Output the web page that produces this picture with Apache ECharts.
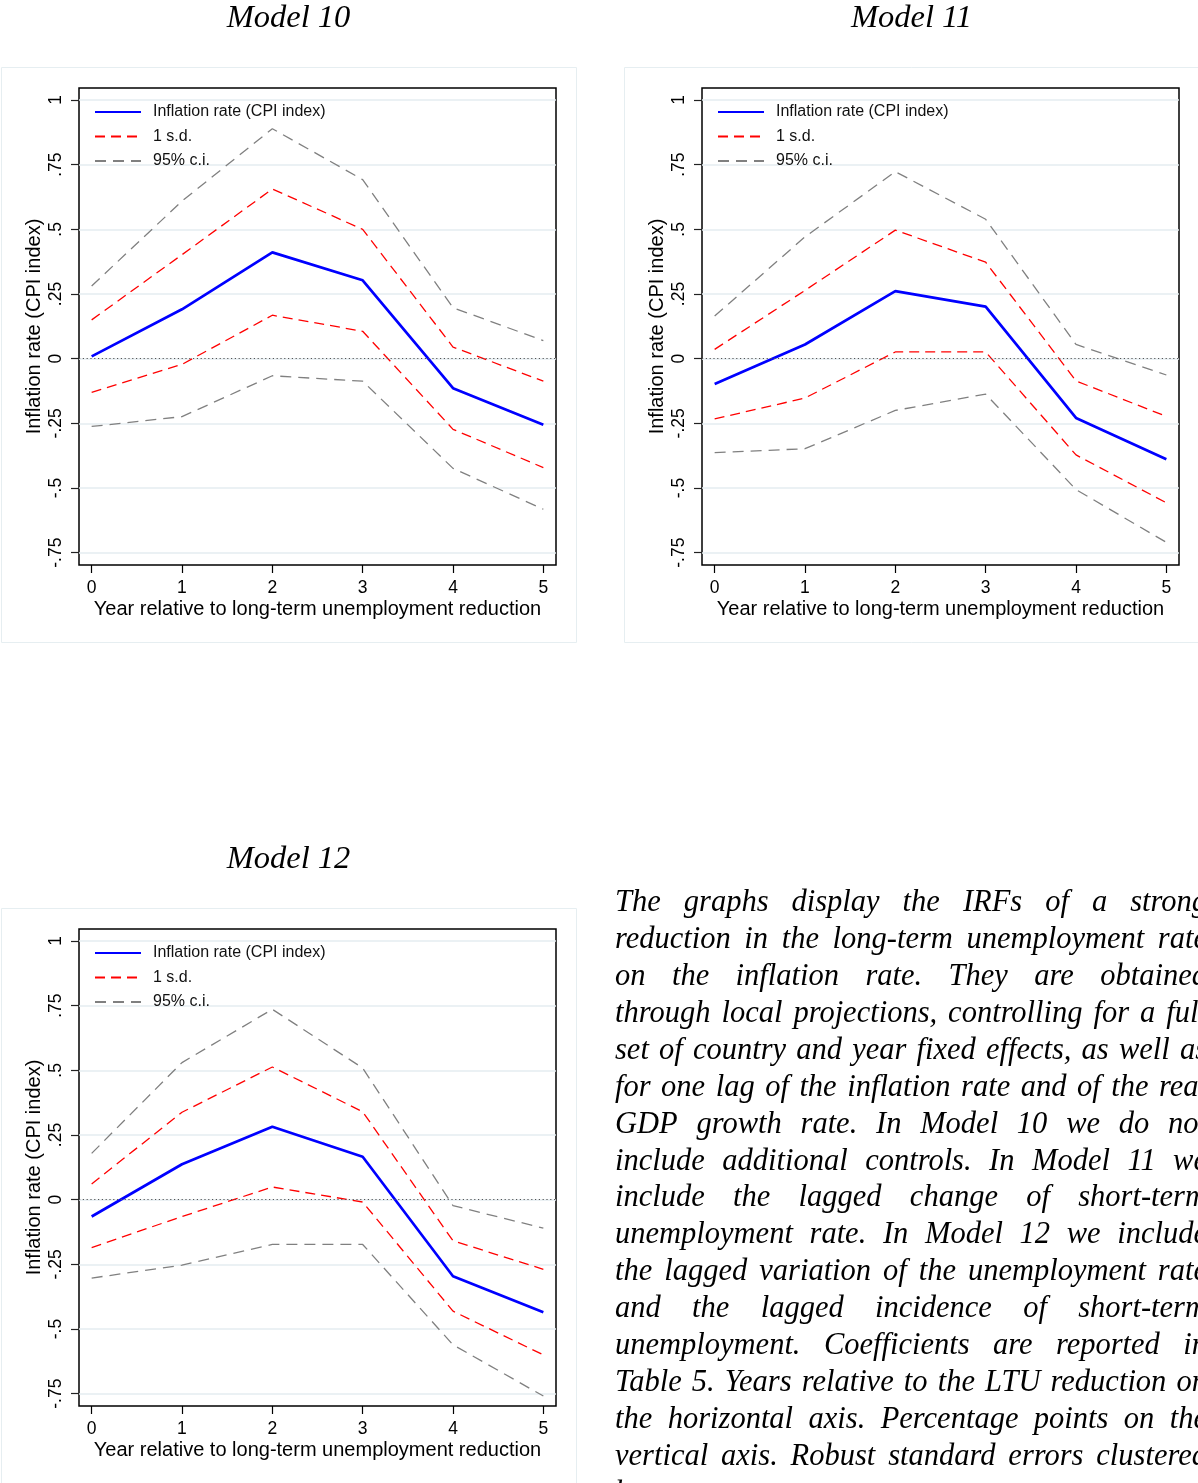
<!DOCTYPE html>
<html>
<head>
<meta charset="utf-8">
<title>Inflation rate IRFs</title>
<script src="https://cdn.jsdelivr.net/npm/echarts@6/dist/echarts.min.js"></script>
<style>
  html, body { margin: 0; padding: 0; background: #ffffff; }
  #chart { width: 1198px; height: 1483px; }
</style>
</head>
<body>
<div id="chart"></div>
<script>
// Horizon (years after the long-term unemployment reduction)
const years = [0, 1, 2, 3, 4, 5];
const yTickValues = [-0.75, -0.5, -0.25, 0, 0.25, 0.5, 0.75, 1];
const seriesNames = ['Inflation rate (CPI index)', '1 s.d.', '95% c.i.'];
const modelTitles = ['Model 10', 'Model 11', 'Model 12'];
const xAxisTitle = 'Year relative to long-term unemployment reduction';
const yAxisTitle = 'Inflation rate (CPI index)';

// Model 10
const m10Irf  = [0.009, 0.191, 0.411, 0.303, -0.114, -0.255];
const m10SdHi = [0.150, 0.402, 0.656, 0.500, 0.045, -0.087];
const m10SdLo = [-0.130, -0.022, 0.168, 0.106, -0.273, -0.421];
const m10CiHi = [0.281, 0.609, 0.889, 0.692, 0.197, 0.070];
const m10CiLo = [-0.262, -0.224, -0.066, -0.087, -0.424, -0.582];

// Model 11
const m11Irf  = [-0.098, 0.055, 0.261, 0.201, -0.229, -0.389];
const m11SdHi = [0.036, 0.264, 0.497, 0.373, -0.086, -0.223];
const m11SdLo = [-0.233, -0.152, 0.026, 0.026, -0.372, -0.557];
const m11CiHi = [0.165, 0.471, 0.723, 0.539, 0.055, -0.063];
const m11CiLo = [-0.363, -0.348, -0.200, -0.137, -0.506, -0.710];

// Model 12
const m12Irf  = [-0.065, 0.137, 0.282, 0.166, -0.296, -0.435];
const m12SdHi = [0.061, 0.338, 0.513, 0.340, -0.159, -0.269];
const m12SdLo = [-0.185, -0.065, 0.049, -0.009, -0.431, -0.600];
const m12CiHi = [0.179, 0.530, 0.736, 0.509, -0.023, -0.110];
const m12CiLo = [-0.303, -0.253, -0.173, -0.173, -0.561, -0.759];

// Note under the graphs, one entry per printed line
const captionLines = [
  'The graphs display the IRFs of a strong',
  'reduction in the long-term unemployment rate',
  'on the inflation rate. They are obtained',
  'through local projections, controlling for a full',
  'set of country and year fixed effects, as well as',
  'for one lag of the inflation rate and of the real',
  'GDP growth rate. In Model 10 we do not',
  'include additional controls. In Model 11 we',
  'include the lagged change of short-term',
  'unemployment rate. In Model 12 we include',
  'the lagged variation of the unemployment rate',
  'and the lagged incidence of short-term',
  'unemployment. Coefficients are reported in',
  'Table 5. Years relative to the LTU reduction on',
  'the horizontal axis. Percentage points on the',
  'vertical axis. Robust standard errors clustered',
  'by country.'
];

const models = [
  { irf: m10Irf, sdHi: m10SdHi, sdLo: m10SdLo, ciHi: m10CiHi, ciLo: m10CiLo },
  { irf: m11Irf, sdHi: m11SdHi, sdLo: m11SdLo, ciHi: m11CiHi, ciLo: m11CiLo },
  { irf: m12Irf, sdHi: m12SdHi, sdLo: m12SdLo, ciHi: m12CiHi, ciLo: m12CiLo }
];

// ---- layout & style ----
const SANS = '"Liberation Sans", Arial, Helvetica, sans-serif';
const SERIF = '"Liberation Serif", "Times New Roman", serif';
const panelOrigins = [ { x: 1, y: 67 }, { x: 624, y: 67 }, { x: 1, y: 908 } ];
const PLOT_DX = 78, PLOT_DY = 21, PLOT_W = 477, PLOT_H = 477;
const BOX_W = 575, BOX_H = 575;
const X_RANGE = [-0.14, 5.14];
const Y_RANGE = [-0.7975, 1.0464];

const BLUE = '#0000ff', RED = '#ff0000', GREY = '#808080';
const RED_DASH = [10, 6], GREY_DASH = [11, 7];
const HIDDEN = 'rgba(0,0,0,0)';

function stataNum(v) {
  if (v === 0) return '0';
  return String(v).replace(/^(-?)0\./, '$1.');
}
const pairs = arr => arr.map((v, i) => [years[i], v]);

const grids = [], xAxes = [], yAxes = [], series = [], legends = [], graphics = [];

panelOrigins.forEach((o, k) => {
  grids.push({
    left: o.x + PLOT_DX, top: o.y + PLOT_DY, width: PLOT_W, height: PLOT_H,
    show: true, borderColor: '#000', borderWidth: 1.5, backgroundColor: '#fff',
    containLabel: false
  });
  xAxes.push({
    type: 'value', gridIndex: k, min: X_RANGE[0], max: X_RANGE[1], position: 'bottom',
    axisLine: { show: false, onZero: false },
    axisTick: { show: true, length: 8, customValues: years, lineStyle: { color: '#000', width: 1.2 } },
    axisLabel: { customValues: years, margin: 14, fontSize: 17.5, fontFamily: SANS, color: '#000', formatter: v => String(v) },
    splitLine: { show: false },
    name: xAxisTitle, nameLocation: 'middle', nameGap: 34,
    nameTextStyle: { fontSize: 20, fontFamily: SANS, color: '#000' }
  });
  yAxes.push({
    type: 'value', gridIndex: k, min: Y_RANGE[0], max: Y_RANGE[1], position: 'left',
    axisLine: { show: false, onZero: false },
    axisTick: { show: true, length: 8, customValues: yTickValues, lineStyle: { color: '#222', width: 1.2 } },
    axisLabel: { customValues: yTickValues, rotate: 90, margin: 14, fontSize: 17.5, fontFamily: SANS, color: '#000', formatter: stataNum },
    splitLine: { show: true, lineStyle: { color: '#e4edf0', width: 1.6 } },
    name: yAxisTitle, nameLocation: 'middle', nameGap: 35,
    nameTextStyle: { fontSize: 20, fontFamily: SANS, color: '#000' }
  });

  const m = models[k];
  const base = { type: 'line', xAxisIndex: k, yAxisIndex: k, symbol: 'none', silent: true };
  series.push(
    Object.assign({}, base, { name: seriesNames[2], data: pairs(m.ciHi), z: 2,
      itemStyle: { color: GREY }, lineStyle: { color: GREY, width: 1.3, type: GREY_DASH } }),
    Object.assign({}, base, { name: seriesNames[2], data: pairs(m.ciLo), z: 2,
      itemStyle: { color: GREY }, lineStyle: { color: GREY, width: 1.3, type: GREY_DASH } }),
    Object.assign({}, base, { name: seriesNames[1], data: pairs(m.sdHi), z: 3,
      itemStyle: { color: RED }, lineStyle: { color: RED, width: 1.3, type: RED_DASH } }),
    Object.assign({}, base, { name: seriesNames[1], data: pairs(m.sdLo), z: 3,
      itemStyle: { color: RED }, lineStyle: { color: RED, width: 1.3, type: RED_DASH } }),
    Object.assign({}, base, { name: seriesNames[0], data: pairs(m.irf), z: 4,
      itemStyle: { color: BLUE }, lineStyle: { color: BLUE, width: 2.7 },
      markLine: {
        silent: true, symbol: 'none', label: { show: false }, animation: false,
        lineStyle: { color: '#555', width: 1, type: [1.2, 2.6] },
        data: [{ yAxis: 0 }]
      } })
  );

  legends.push({
    data: seriesNames, orient: 'vertical', left: o.x + 93, top: o.y + 37, padding: 0,
    itemWidth: 46, itemHeight: 14, itemGap: 8.5, selectedMode: false,
    itemStyle: { color: HIDDEN, borderColor: HIDDEN, borderWidth: 0, opacity: 0 },
    textStyle: { fontSize: 16, fontFamily: SANS, color: '#111', padding: [0, 0, 0, 7] }
  });

  // light outer frame of each panel and the panel heading
  graphics.push({
    type: 'rect', silent: true, z: -10,
    shape: { x: o.x + 0.5, y: o.y + 0.5, width: BOX_W, height: BOX_H },
    style: { fill: '#fff', stroke: '#e6eef1', lineWidth: 1 }
  });
  graphics.push({
    type: 'text', silent: true, x: o.x + BOX_W / 2, y: o.y - 49,
    style: { text: modelTitles[k], font: 'italic 32.5px ' + SERIF, fill: '#000',
      textAlign: 'center', align: 'center', textVerticalAlign: 'middle', verticalAlign: 'middle' }
  });
});

// ---- justified caption ----
const CAP_FONT = 'italic 30.5px ' + SERIF;
const CAP_LEFT = 615, CAP_RIGHT = 1207, CAP_TOP = 903, CAP_LEAD = 36.93;
const measure = document.createElement('canvas').getContext('2d');
measure.font = CAP_FONT;
captionLines.forEach((line, i) => {
  const words = line.split(' ');
  const widths = words.map(w => measure.measureText(w).width);
  const total = widths.reduce((a, b) => a + b, 0);
  const last = i === captionLines.length - 1;
  const gap = (last || words.length < 2) ? measure.measureText(' ').width
                                         : (CAP_RIGHT - CAP_LEFT - total) / (words.length - 1);
  let x = CAP_LEFT;
  words.forEach((w, j) => {
    graphics.push({
      type: 'text', silent: true, x: x, y: CAP_TOP + i * CAP_LEAD,
      style: { text: w, font: CAP_FONT, fill: '#000',
        textAlign: 'left', align: 'left', textVerticalAlign: 'middle', verticalAlign: 'middle' }
    });
    x += widths[j] + gap;
  });
});

const chart = echarts.init(document.getElementById('chart'), null, { renderer: 'canvas' });
chart.setOption({
  animation: false,
  backgroundColor: '#ffffff',
  grid: grids,
  xAxis: xAxes,
  yAxis: yAxes,
  legend: legends,
  series: series,
  graphic: { elements: graphics }
});
</script>
</body>
</html>
